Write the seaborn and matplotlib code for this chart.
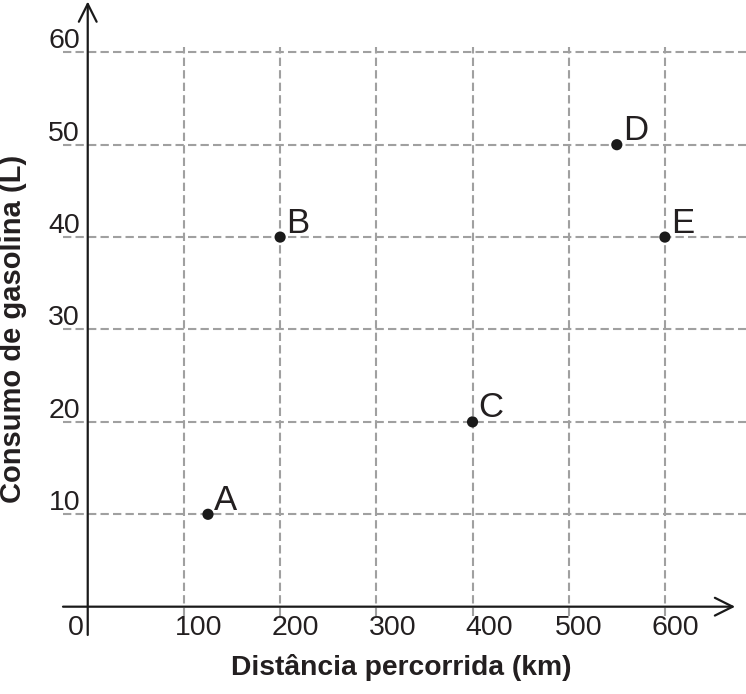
import matplotlib
matplotlib.use("Agg")
import matplotlib.pyplot as plt
import seaborn as sns
import pandas as pd

# dados do gráfico
pontos = ["A", "B", "C", "D", "E"]
distancia = [125, 200, 400, 550, 600]
consumo = [10, 40, 20, 50, 40]
xticks = [100, 200, 300, 400, 500, 600]
yticks = [10, 20, 30, 40, 50, 60]

df = pd.DataFrame({"ponto": pontos, "distancia": distancia, "consumo": consumo})

sns.set_style("white")
plt.rcParams["font.family"] = ["Liberation Sans", "DejaVu Sans"]

cor_texto = "#231f20"
cor_grade = "#a0a0a0"

fig = plt.figure(figsize=(7.46, 6.94), dpi=100)
ax = fig.add_axes([0, 0, 1, 1])
ax.set_xlim(-91.2, 684.3)
ax.set_ylim(-9.45, 65.66)
ax.axis("off")

# grade tracejada
ax.hlines(yticks, -25.7, 684.3, colors=cor_grade, linewidth=1.5,
          linestyles=(0, (4, 2)), zorder=1)
ax.vlines(xticks, -1, 60.6, colors=cor_grade, linewidth=1.5,
          linestyles=(0, (4, 2)), zorder=1)

# eixos com setas
seta = dict(arrowstyle="->", color="#1a1a1a", lw=1.6,
            mutation_scale=32, shrinkA=0, shrinkB=0)
ax.annotate("", xy=(673, 0), xytext=(-25.7, 0), arrowprops=seta, zorder=2)
ax.annotate("", xy=(0, 65.5), xytext=(0, -3.06), arrowprops=seta, zorder=2)

# rótulos dos ticks (no original ficam um pouco à direita da grade)
desloc = [15, 15.5, 16, 17, 9.5, 10.5]
for v, d in zip(xticks, desloc):
    ax.annotate(str(v), (v, -2.3), xytext=(d * 0.72, 0), textcoords="offset points",
                ha="center", va="center", fontsize=20.5, color=cor_texto)
ax.text(-4, -2.3, "0", ha="right", va="center", fontsize=20.5, color=cor_texto)
for v in yticks:
    ax.text(-8, v + 0.45, str(v), ha="right", va="baseline", fontsize=20.5, color=cor_texto)

# títulos dos eixos
ax.text(325.7, -6.63, "Distância percorrida (km)", ha="center", va="center",
        fontsize=20.3, fontweight="bold", color=cor_texto)
ax.text(-77.7, 30.05, "Consumo de gasolina (L)", ha="center", va="center",
        rotation=90, fontsize=21, fontweight="bold", color=cor_texto)

# pontos
sns.scatterplot(data=df, x="distancia", y="consumo", ax=ax, color="#1a1a1a",
                s=65, edgecolor="none", zorder=3, legend=False)
for _, r in df.iterrows():
    ax.annotate(r["ponto"], (r["distancia"], r["consumo"]), xytext=(4.3, 3.2),
                textcoords="offset points", ha="left", va="baseline",
                fontsize=25, color=cor_texto)

fig.savefig("out.png", dpi=100)
